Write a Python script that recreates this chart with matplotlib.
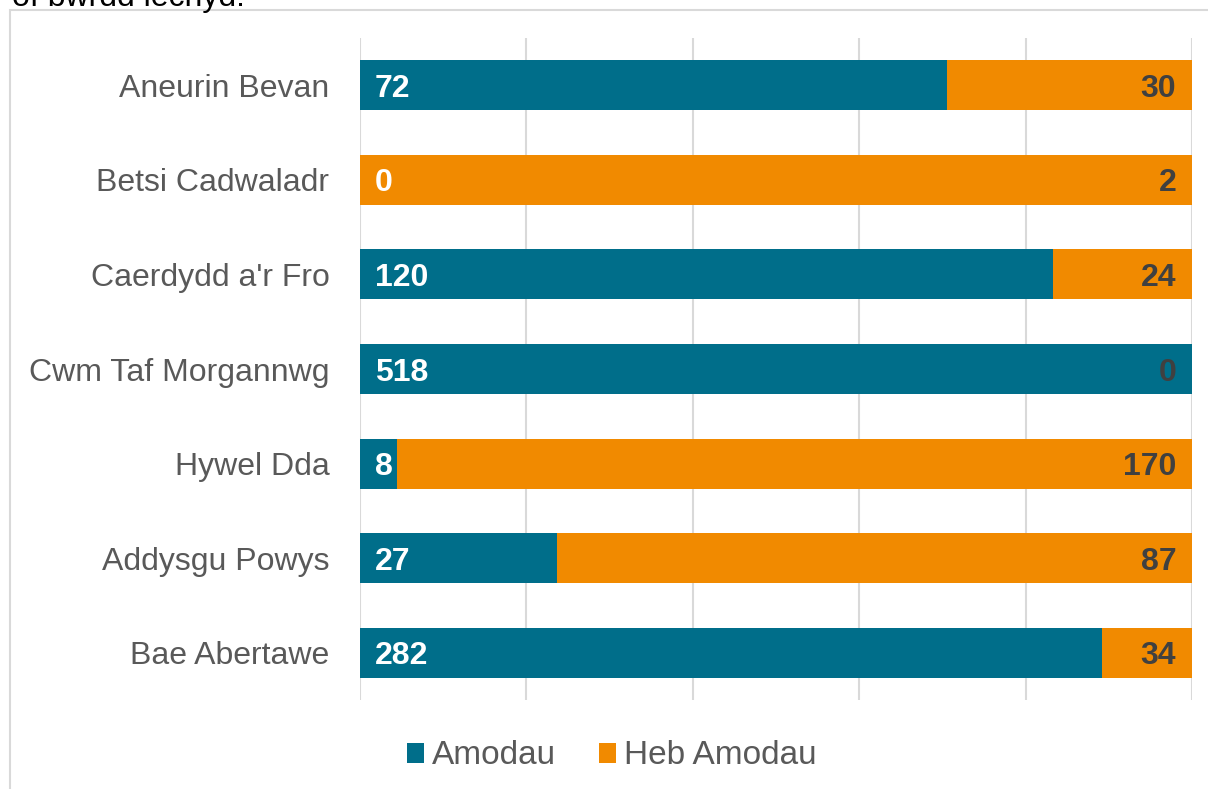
import matplotlib.pyplot as plt
from matplotlib.patches import Rectangle
import numpy as np

plt.rcParams['font.family'] = ['Liberation Sans', 'DejaVu Sans']

boards = ['Aneurin Bevan', 'Betsi Cadwaladr', "Caerdydd a'r Fro", 'Cwm Taf Morgannwg',
          'Hywel Dda', 'Addysgu Powys', 'Bae Abertawe']
amodau = [72, 0, 120, 518, 8, 27, 282]
heb_amodau = [30, 2, 24, 0, 170, 87, 34]

teal = '#006E8A'
orange = '#F18A00'

am = np.array(amodau, dtype=float)
heb = np.array(heb_amodau, dtype=float)
tot = am + heb
am_pct = am / tot * 100
heb_pct = heb / tot * 100
y = np.arange(len(boards))

fig = plt.figure(figsize=(12.08, 7.89), dpi=100)
ax = fig.add_axes([360 / 1208, 1 - 700 / 789, 832 / 1208, 662 / 789])

ax.barh(y, am_pct, height=0.53, color=teal, label='Amodau', zorder=2)
ax.barh(y, heb_pct, left=am_pct, height=0.53, color=orange, label='Heb Amodau', zorder=2)

for i in range(len(boards)):
    ax.text(1.8, y[i], str(amodau[i]), color='white', fontsize=23, fontweight='bold',
            ha='left', va='center_baseline', zorder=3)
    ax.text(98.1, y[i], str(heb_amodau[i]), color='#404040', fontsize=23, fontweight='bold',
            ha='right', va='center_baseline', zorder=3)

ax.set_xlim(0, 100)
ax.set_ylim(6.5, -0.5)
ax.set_xticks([0, 20, 40, 60, 80, 100])
ax.set_xticklabels([])
ax.tick_params(axis='x', length=0)
ax.tick_params(axis='y', length=0, pad=22, labelsize=23, labelcolor='#595959')
ax.set_yticks(y)
ax.set_yticklabels(boards)
ax.grid(axis='x', color='#D9D9D9', linewidth=1.5, zorder=0)
for s in ax.spines.values():
    s.set_visible(False)

leg = fig.legend(loc='center', bbox_to_anchor=(612 / 1208, 1 - 756 / 789), ncol=2, frameon=False,
                 fontsize=24, handlelength=0.5, handleheight=0.55, handletextpad=0.25,
                 columnspacing=1.3)
for t in leg.get_texts():
    t.set_color('#595959')

# chart border and cut-off caption above it
fig.patches.append(Rectangle((10 / 1208, -0.05), 1.2, 1 - 10 / 789 + 0.05, transform=fig.transFigure,
                             fill=False, edgecolor='#D9D9D9', linewidth=1.5))
fig.text(12 / 1208, 1 - 6 / 789, 'of bwrdd iechyd.', fontsize=23, color='#000000',
         ha='left', va='baseline')

fig.savefig('out.png', dpi=100)
